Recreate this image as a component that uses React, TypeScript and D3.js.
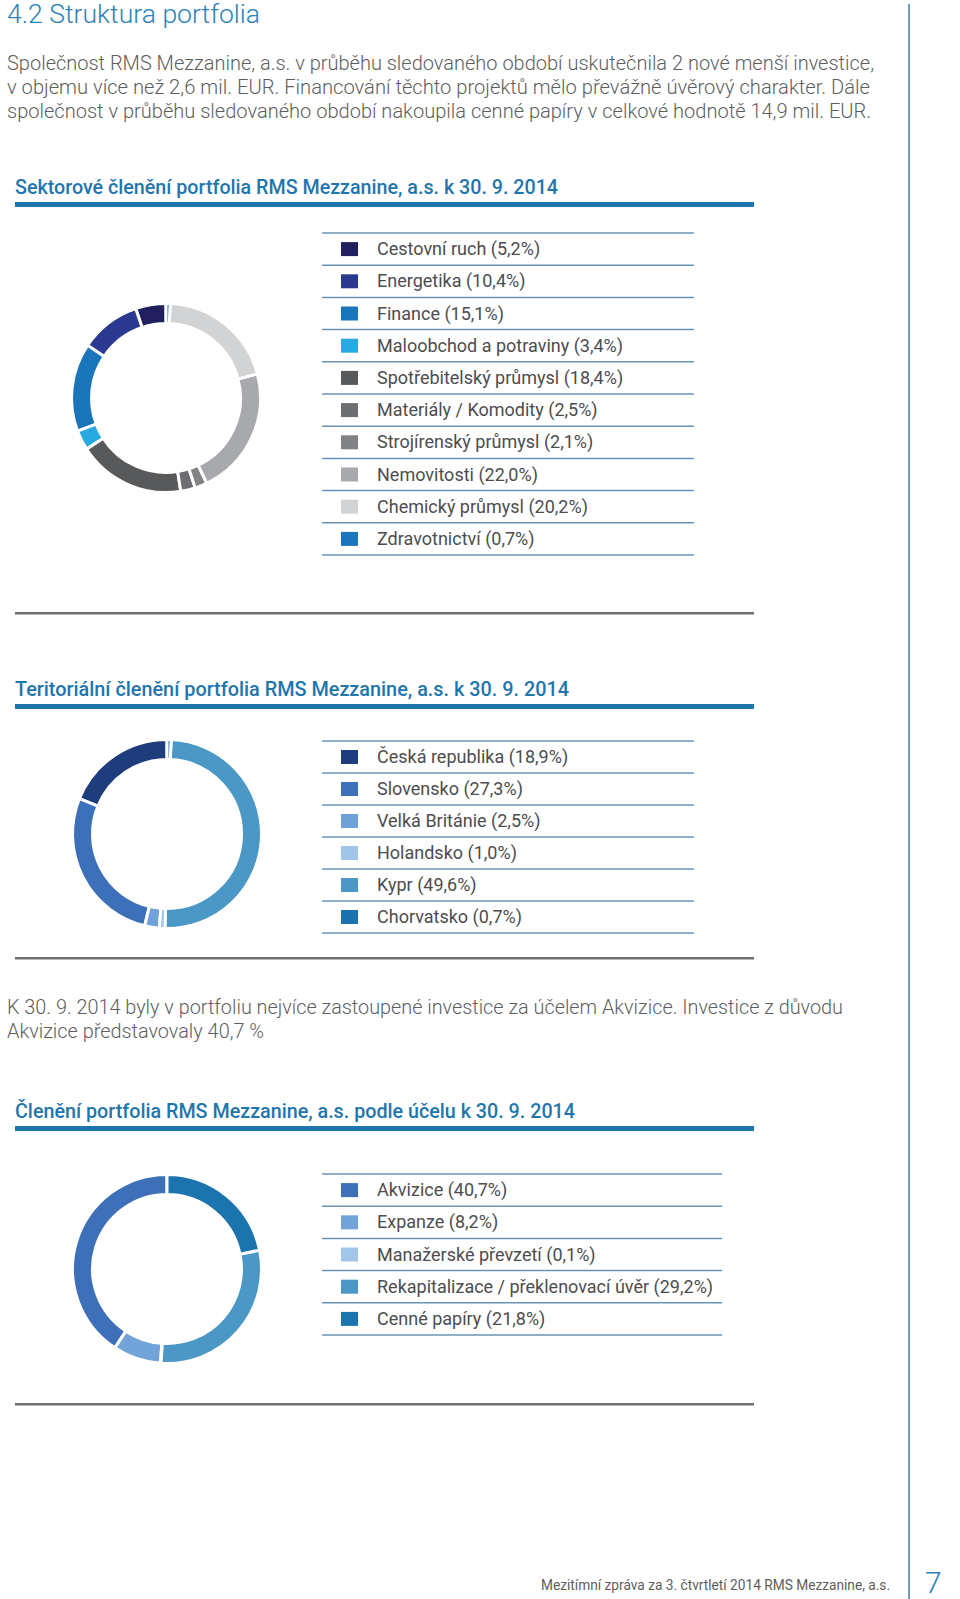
import React from "react";
import * as d3 from "d3";

// texts
const pageTitle = "4.2 Struktura portfolia";
const introLines = [
  "Společnost RMS Mezzanine, a.s. v průběhu sledovaného období uskutečnila 2 nové menší investice,",
  "v objemu více než 2,6 mil. EUR. Financování těchto projektů mělo převážně úvěrový charakter. Dále",
  "společnost v průběhu sledovaného období nakoupila cenné papíry v celkové hodnotě 14,9 mil. EUR.",
];
const noteLines = [
  "K 30. 9. 2014 byly v portfoliu nejvíce zastoupené investice za účelem Akvizice. Investice z důvodu",
  "Akvizice představovaly 40,7 %",
];
const footerText = "Mezitímní zpráva za 3. čtvrtletí 2014 RMS Mezzanine, a.s.";
const pageNumber = "7";

// sektorové členění
const sectorTitle = "Sektorové členění portfolia RMS Mezzanine, a.s. k 30. 9. 2014";
const sectorNames = [
  "Cestovní ruch",
  "Energetika",
  "Finance",
  "Maloobchod a potraviny",
  "Spotřebitelský průmysl",
  "Materiály / Komodity",
  "Strojírenský průmysl",
  "Nemovitosti",
  "Chemický průmysl",
  "Zdravotnictví",
];
const sectorValues = [5.2, 10.4, 15.1, 3.4, 18.4, 2.5, 2.1, 22.0, 20.2, 0.7];
const sectorColors = [
  "#211f5e", "#2b3990", "#1b75bb", "#27aae1", "#58595b",
  "#6d6e71", "#808285", "#a7a9ac", "#d1d3d4", "#1c75bc",
];

// teritoriální členění
const regionTitle = "Teritoriální členění portfolia RMS Mezzanine, a.s. k 30. 9. 2014";
const regionNames = ["Česká republika", "Slovensko", "Velká Británie", "Holandsko", "Kypr", "Chorvatsko"];
const regionValues = [18.9, 27.3, 2.5, 1.0, 49.6, 0.7];
const regionColors = ["#1f3c7c", "#3c70b8", "#70a2da", "#a0c5e8", "#4b97c5", "#1c72b0"];

// podle účelu
const purposeTitle = "Členění portfolia RMS Mezzanine, a.s. podle účelu k 30. 9. 2014";
const purposeNames = [
  "Akvizice",
  "Expanze",
  "Manažerské převzetí",
  "Rekapitalizace / překlenovací úvěr",
  "Cenné papíry",
];
const purposeValues = [40.7, 8.2, 0.1, 29.2, 21.8];
const purposeColors = ["#3d70b8", "#72a4da", "#a2c6e9", "#4b97c5", "#1c74ae"];

const BLUE = "#1f76ae";
const TEXT = "#5d5e60";
const FONT = "Roboto, 'Noto Sans', sans-serif";

const fmt = (v: number) => v.toFixed(1).replace(".", ",");

function DonutBlock({ title, titleLen, names, values, colors, headerY, cx, cy, legendTop, rowH, legendRight, ruleY }) {
  // proti směru hodinových ručiček od 12 hodin, bílé okraje mezi výsečemi
  const pie = d3
    .pie<number>()
    .value((d) => d)
    .sort(null)
    .startAngle(0)
    .endAngle(-2 * Math.PI);
  const arc = d3.arc<d3.PieArcDatum<number>>().innerRadius(74.5).outerRadius(94.5);
  const arcs = pie(values);

  const rows = d3.range(names.length + 1);

  return (
    <g>
      <text x={15} y={headerY} fontFamily={FONT} fontWeight={500} fontSize={21} fill={BLUE}
        textLength={titleLen} lengthAdjust="spacingAndGlyphs">
        {title}
      </text>
      <rect x={15} y={headerY + 8} width={739} height={5} fill={BLUE} />

      <g transform={`translate(${cx},${cy})`}>
        {arcs.map((a, i) => (
          <path key={i} d={arc(a)} fill={colors[i]} stroke="#fff" strokeWidth={3} strokeLinejoin="miter" />
        ))}
      </g>

      {rows.map((i) => (
        <line key={"l" + i} x1={322} x2={legendRight} y1={legendTop + i * rowH} y2={legendTop + i * rowH}
          stroke="#6b93b6" strokeWidth={1.5} />
      ))}
      {names.map((n, i) => {
        const my = legendTop + i * rowH + rowH / 2;
        return (
          <g key={"t" + i}>
            <rect x={341} y={my - 7} width={17} height={14} fill={colors[i]} />
            <text x={377} y={my + 6} fontFamily={FONT} fontSize={18} fill="#4d4d4f">
              {`${n} (${fmt(values[i])}%)`}
            </text>
          </g>
        );
      })}

      <rect x={15} y={ruleY} width={739} height={2.5} fill="#6d6e71" />
    </g>
  );
}

export default function App() {
  return (
    <svg width={960} height={1599} style={{ position: "absolute", left: 0, top: 0, background: "#fff" }}>
      <rect width={960} height={1599} fill="#fff" />
      <line x1={909} x2={909} y1={4} y2={1599} stroke="#6f9dc2" strokeWidth={2} />

      <text x={7} y={23} fontFamily={FONT} fontWeight={300} fontSize={26} fill="#2a82b8"
        textLength={253} lengthAdjust="spacingAndGlyphs">
        {pageTitle}
      </text>

      {introLines.map((l, i) => (
        <text key={i} x={7} y={70 + i * 24} fontFamily={FONT} fontWeight={300} fontSize={20} fill={TEXT}
          textLength={[867, 863, 864][i]} lengthAdjust="spacingAndGlyphs">
          {l}
        </text>
      ))}

      <DonutBlock title={sectorTitle} titleLen={543} names={sectorNames} values={sectorValues} colors={sectorColors}
        headerY={194} cx={166} cy={398} legendTop={233} rowH={32.2} legendRight={694} ruleY={612} />

      <DonutBlock title={regionTitle} titleLen={554} names={regionNames} values={regionValues} colors={regionColors}
        headerY={696} cx={167} cy={834} legendTop={741} rowH={32} legendRight={694} ruleY={957} />

      {noteLines.map((l, i) => (
        <text key={i} x={7} y={1014 + i * 24} fontFamily={FONT} fontWeight={300} fontSize={20} fill={TEXT}
          textLength={[836, 257][i]} lengthAdjust="spacingAndGlyphs">
          {l}
        </text>
      ))}

      <DonutBlock title={purposeTitle} titleLen={560} names={purposeNames} values={purposeValues} colors={purposeColors}
        headerY={1118} cx={167} cy={1269} legendTop={1174} rowH={32.2} legendRight={722} ruleY={1403} />

      <text x={541} y={1590} fontFamily={FONT} fontSize={15} fill={TEXT} textLength={349} lengthAdjust="spacingAndGlyphs">
        {footerText}
      </text>
      <text x={925} y={1593} fontFamily={FONT} fontWeight={300} fontSize={30} fill="#2a82b8">
        {pageNumber}
      </text>
    </svg>
  );
}
